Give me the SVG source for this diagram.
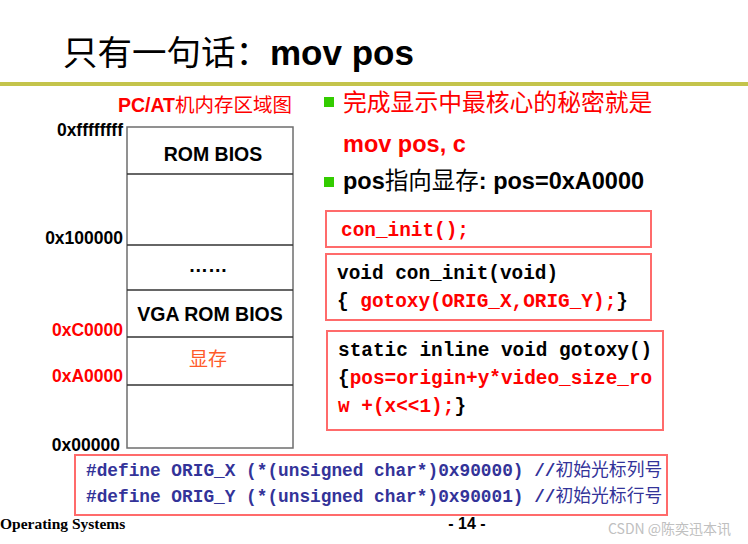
<svg xmlns="http://www.w3.org/2000/svg" width="748" height="544" viewBox="0 0 748 544">
<style>
.t{font-family:"Liberation Sans","Noto Sans CJK SC",sans-serif}
.b{font-weight:bold}
.cj{font-family:"Noto Sans CJK SC","Liberation Sans",sans-serif}
.m{font-family:"Liberation Mono","Noto Sans CJK SC",monospace;font-weight:bold}
.box{fill:#fff;stroke:#ff6b6b;stroke-width:2}
.mem{fill:#fff;stroke:#6e6e6e;stroke-width:1.5}
.div{stroke:#333;stroke-width:1.3}
.red{fill:#ff0000}
.blk{fill:#000}
.lab{font-family:"Liberation Sans",sans-serif;font-weight:bold;font-size:17.5px;text-anchor:end}
.cell{font-family:"Liberation Sans","Noto Sans CJK SC",sans-serif;font-weight:bold;font-size:19.5px;text-anchor:middle}
</style>
<rect width="748" height="544" fill="#fff"/>
<g id="title">
<text x="63" y="65" font-size="34.5" class="cj" fill="#000">只有一句话：<tspan class="t b" font-size="35">mov pos</tspan></text>
<rect x="0" y="82" width="748" height="4" fill="#c4c44c"/>
</g>
<g id="memory-map">
<text x="205" y="112" font-size="19.5" class="t b red" text-anchor="middle">PC/AT<tspan class="cj" font-weight="normal">机内存区域图</tspan></text>
<rect class="mem" x="127" y="127" width="166" height="321"/>
<line class="div" x1="127" y1="174" x2="293" y2="174"/>
<line class="div" x1="127" y1="245" x2="293" y2="245"/>
<line class="div" x1="127" y1="290" x2="293" y2="290"/>
<line class="div" x1="127" y1="337" x2="293" y2="337"/>
<line class="div" x1="127" y1="385" x2="293" y2="385"/>
<text class="cell" x="213" y="161">ROM BIOS</text>
<text class="cell" x="208" y="272">……</text>
<text class="cell" x="210" y="321">VGA ROM BIOS</text>
<text x="208" y="366" font-size="19" class="cj" fill="#ff5a2a" text-anchor="middle">显存</text>
<text class="lab" x="123" y="136">0xffffffff</text>
<text class="lab" x="123" y="244">0x100000</text>
<text class="lab red" x="123" y="336">0xC0000</text>
<text class="lab red" x="123" y="382">0xA0000</text>
<text class="lab" x="120" y="451">0x00000</text>
</g>
<g id="bullets">
<rect x="324" y="97" width="10" height="10" fill="#33cc00"/>
<text x="343" y="111" font-size="23.8" class="cj red">完成显示中最核心的秘密就是</text>
<text x="343" y="152" font-size="23.5" class="t b red">mov pos, c</text>
<rect x="324" y="177" width="10" height="10" fill="#33cc00"/>
<text x="343" y="189" font-size="23.5" class="t b blk">pos<tspan class="cj" font-weight="normal">指向显存</tspan>: pos=0xA0000</text>
</g>
<g id="box-call">
<rect class="box" x="326" y="211" width="325" height="36"/>
<text x="341" y="236" font-size="19.4" class="m red">con_init();</text>
</g>
<g id="box-coninit">
<rect class="box" x="326" y="254" width="325" height="66"/>
<text x="337" y="279" font-size="19.4" class="m blk">void con_init(void)</text>
<text x="337" y="307" font-size="19.4" class="m blk">{ <tspan fill="#ff0000">gotoxy(ORIG_X,ORIG_Y);</tspan>}</text>
</g>
<g id="box-gotoxy">
<rect class="box" x="327" y="331" width="336" height="99"/>
<text x="338" y="356" font-size="19.4" class="m blk">static inline void gotoxy()</text>
<text x="338" y="384" font-size="19.4" class="m blk">{<tspan fill="#ff0000">pos=origin+y*video_size_ro</tspan></text>
<text x="338" y="412" font-size="19.4" class="m red">w +(x&lt;&lt;1);<tspan fill="#000">}</tspan></text>
</g>
<g id="box-define">
<rect class="box" x="75" y="455" width="592" height="60"/>
<text x="86" y="476" font-size="17.8" class="m" fill="#333399">#define ORIG_X (*(unsigned char*)0x90000) //<tspan class="cj" font-weight="normal">初始光标列号</tspan></text>
<text x="86" y="502" font-size="17.8" class="m" fill="#333399">#define ORIG_Y (*(unsigned char*)0x90001) //<tspan class="cj" font-weight="normal">初始光标行号</tspan></text>
</g>
<g id="footer">
<text x="0" y="529" font-size="15.5" font-family="Liberation Serif,serif" font-weight="bold" fill="#000">Operating Systems</text>
<text x="467" y="529" font-size="16" class="t b" fill="#000" text-anchor="middle">- 14 -</text>
<text x="608" y="534" font-size="14" class="cj" fill="#c0c0c0">CSDN @陈奕迅本讯</text>
</g>
<g id="connectors"></g>
</svg>
